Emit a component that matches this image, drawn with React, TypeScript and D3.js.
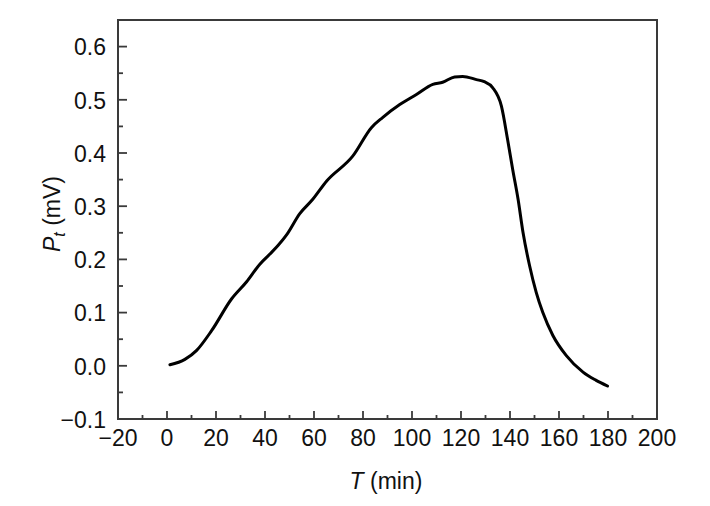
import React from 'react';
import * as d3 from 'd3';

// --- data ---
const timeMin = [1.2, 7.3, 12.1, 18.2, 26.4, 32.5, 37.9, 42.0, 45.3, 48.8, 54.2, 59.5, 65.1, 75.8, 83.5, 88.1, 95.0, 101.8, 108.5, 112.5, 117.4, 120.7, 126.3, 129.5, 132.9, 136.5, 139.0, 141.1, 143.3, 145.3, 148.0, 150.7, 153.4, 157.5, 163.0, 169.8, 175.0, 179.8];
const ptMv = [0.002, 0.012, 0.029, 0.066, 0.126, 0.158, 0.191, 0.210, 0.226, 0.246, 0.286, 0.313, 0.347, 0.394, 0.448, 0.467, 0.491, 0.510, 0.529, 0.533, 0.543, 0.544, 0.538, 0.534, 0.523, 0.488, 0.426, 0.369, 0.313, 0.251, 0.188, 0.138, 0.100, 0.057, 0.019, -0.012, -0.027, -0.038];

const xTicks = [-20, 0, 20, 40, 60, 80, 100, 120, 140, 160, 180, 200];
const xMinor = [-10, 10, 30, 50, 70, 90, 110, 130, 150, 170, 190];
const yTicks = [-0.1, 0.0, 0.1, 0.2, 0.3, 0.4, 0.5, 0.6];
const yMinor = [-0.05, 0.05, 0.15, 0.25, 0.35, 0.45, 0.55];

const W = 710, H = 506;
const left = 118, right = 657, top = 20, bottom = 419;
const font = 'Arial, "Liberation Sans", Helvetica, sans-serif';
const axisColor = '#3a3a3a';
const fs = 23;

export default function App() {
  const x = d3.scaleLinear().domain([-20, 200]).range([left, right]);
  const y = d3.scaleLinear().domain([-0.1, 0.65]).range([bottom, top]);

  const pts = timeMin.map((t, i) => [t, ptMv[i]] as [number, number]);
  const line = d3.line<[number, number]>()
    .x(d => x(d[0]))
    .y(d => y(d[1]))
    .curve(d3.curveMonotoneX);

  const fmtY = (v: number) => (v < 0 ? '\u2212' : '') + Math.abs(v).toFixed(1);
  const fmtX = (v: number) => (v < 0 ? '\u2212' : '') + Math.abs(v);

  return (
    <svg width={W} height={H} style={{ position: 'absolute', left: 0, top: 0, background: '#fff' }}
      fontFamily={font}>
      <rect x={0} y={0} width={W} height={H} fill="#fff" />

      {/* curve */}
      <path d={line(pts) || ''} fill="none" stroke="#000" strokeWidth={3} strokeLinejoin="round" strokeLinecap="round" />

      {/* frame */}
      <rect x={left} y={top} width={right - left} height={bottom - top} fill="none" stroke={axisColor} strokeWidth={2} />

      {/* x ticks (inward) */}
      {xTicks.map(t => (
        <g key={'xt' + t}>
          <line x1={x(t)} x2={x(t)} y1={bottom} y2={bottom - 8} stroke={axisColor} strokeWidth={1.8} />
          <text x={x(t)} y={446} fontSize={fs} textAnchor="middle" fill="#111">{fmtX(t)}</text>
        </g>
      ))}
      {xMinor.map(t => (
        <line key={'xm' + t} x1={x(t)} x2={x(t)} y1={bottom} y2={bottom - 4} stroke={axisColor} strokeWidth={1.8} />
      ))}

      {/* y ticks (inward) */}
      {yTicks.map(v => (
        <g key={'yt' + v}>
          <line x1={left} x2={left + 9} y1={y(v)} y2={y(v)} stroke={axisColor} strokeWidth={1.8} />
          <text x={106} y={y(v)} dy="0.38em" fontSize={fs} textAnchor="end" fill="#111">{fmtY(v)}</text>
        </g>
      ))}
      {yMinor.map(v => (
        <line key={'ym' + v} x1={left} x2={left + 5} y1={y(v)} y2={y(v)} stroke={axisColor} strokeWidth={1.8} />
      ))}

      {/* axis titles */}
      <text x={386} y={489} fontSize={fs} textAnchor="middle" fill="#111">
        <tspan fontStyle="italic">T</tspan> (min)
      </text>
      <text transform="translate(60,214) rotate(-90)" fontSize={fs} textAnchor="middle" fill="#111">
        <tspan fontStyle="italic">P</tspan>
        <tspan fontStyle="italic" fontSize={16} dy={5}>t</tspan>
        <tspan dy={-5}> (mV)</tspan>
      </text>
    </svg>
  );
}
